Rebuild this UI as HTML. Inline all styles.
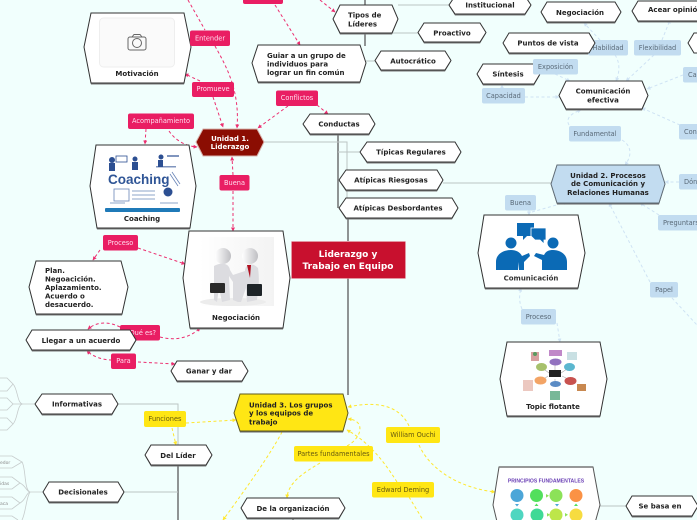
<!DOCTYPE html>
<html><head><meta charset="utf-8"><style>
html,body{margin:0;padding:0;background:#f1fffd;overflow:hidden}
svg{display:block;filter:blur(0.3px)}
text{font-family:"DejaVu Sans","Liberation Sans",sans-serif}
.b{font-weight:bold;font-size:7px;fill:#222;text-anchor:middle}
.l{font-weight:bold;font-size:7px;fill:#222}
.pk text,.yl text,.bl text{font-size:6.6px;text-anchor:middle}
.pk text{fill:#fde}.yl text{fill:#665a10}.bl text{fill:#5a6a78}
.pk rect{fill:#e91e63}.yl rect{fill:#ffe614}.bl rect{fill:#c2dcf0}
.n polygon{fill:#fff;stroke:#333;stroke-width:1}
.gl{fill:none;stroke:#bcc4c4;stroke-width:1}
.fn{fill:none;stroke:#c6cccc;stroke-width:0.8}
.tr{fill:none;stroke:#8f9494;stroke-width:2}
.pd{fill:none;stroke:#ec2f70;stroke-width:1;stroke-dasharray:3 2.5;marker-end:url(#ap)}
.yd{fill:none;stroke:#ffe72e;stroke-width:1;stroke-dasharray:3 2.5;marker-end:url(#ay)}
.bd{fill:none;stroke:#cfe3f4;stroke-width:1;stroke-dasharray:3 2.5;marker-end:url(#ab)}
.nm{marker-end:none}
.tiny{font-size:4.500px;fill:#888}
</style></head><body>
<svg width="697" height="520" viewBox="0 0 697 520" xmlns="http://www.w3.org/2000/svg">
<defs>
<marker id="ap" markerUnits="userSpaceOnUse" markerWidth="4" markerHeight="4" refX="3.500" refY="2" orient="auto"><path d="M0 0L4 2L0 4Z" fill="#ec2f70"/></marker>
<marker id="ay" markerUnits="userSpaceOnUse" markerWidth="4" markerHeight="4" refX="3.500" refY="2" orient="auto"><path d="M0 0L4 2L0 4Z" fill="#ffe72e"/></marker>
<marker id="ab" markerUnits="userSpaceOnUse" markerWidth="4" markerHeight="4" refX="3.500" refY="2" orient="auto"><path d="M0 0L4 2L0 4Z" fill="#cfe3f4"/></marker>
<linearGradient id="fig" x1="0" x2="1"><stop offset="0" stop-color="#fff"/><stop offset="1" stop-color="#bfbfc3"/></linearGradient>
<linearGradient id="bgn" x1="0" x2="1"><stop offset="0" stop-color="#fff"/><stop offset="1" stop-color="#f3f3f3"/></linearGradient>
<clipPath id="cq"><rect x="120" y="328" width="20" height="24"/></clipPath>
<clipPath id="cp"><rect x="585" y="32" width="12" height="23"/></clipPath>
</defs>
<rect width="697" height="520" fill="#f1fffd"/>

<!-- gray structure -->
<path class="tr" d="M365 0V46"/>
<path class="tr" d="M338 134V208"/>
<path class="tr" d="M348 208V241"/>
<path class="tr" d="M348 278V395"/>
<path class="tr" d="M178 465V520"/>
<path class="tr" d="M293 518V520"/>
<path class="gl" d="M398 5H449M388 33H418M366 61H375M264 142H347V210M338 152H360M443 183H551M118 404H178V445M124 492H178M600 506H626"/>

<!-- left fans -->
<path class="fn" d="M35 404H23M23 404C17 404 18 389 13 384M23 404H13M23 404C17 404 18 419 13 424"/>
<path class="fn" d="M0 378H7L13 384L7 391H0M0 398H7L13 404L7 410H0M0 418H7L13 424L7 430H0"/>
<path class="fn" d="M43 492H30M30 492C24 490 26 468 22 462M30 492C26 491 26 486 20 483M30 492C26 493 26 500 20 503M30 492C26 498 26 512 22 520"/>
<path class="fn" d="M0 456H12L22 462L12 468H0M0 477H12L20 483L12 489H0M0 497H12L20 503L12 509H0M0 516H12L18 520"/>
<text class="tiny" x="0" y="464">edor</text><text class="tiny" x="0" y="485">idas</text><text class="tiny" x="0" y="505">aca</text>

<!-- pink connectors -->
<path class="pd nm" d="M188 0L205 30"/>
<path class="pd" d="M215 46C226 66 240 90 237 128"/>
<path class="pd" d="M275 5L300 45"/>
<path class="pd" d="M320 0L335 12"/>
<path class="pd" d="M200 81L185 74"/>
<path class="pd" d="M213 97L223 127"/>
<path class="pd" d="M288 106L258 128"/>
<path class="pd" d="M317 105L328 114"/>
<path class="pd" d="M146 129L145 144"/>
<path class="pd" d="M169 131C175 140 185 146 197 147"/>
<path class="pd" d="M233 175L232 157"/>
<path class="pd" d="M233 191V231"/>
<path class="pd" d="M100 250L93 260"/>
<path class="pd" d="M138 248L185 264"/>
<path class="pd" d="M120 327C108 321 96 322 88 329"/>
<path class="pd" d="M160 337C175 341 190 338 200 328"/>
<path class="pd" d="M112 360C102 360 92 356 87 351"/>
<path class="pd" d="M138 362L175 364"/>
<!-- yellow connectors -->
<path class="yd" d="M186 423L236 420"/>
<path class="yd" d="M172 428L176 445"/>
<path class="yd" d="M320 463C305 472 288 482 287 498"/>
<path class="yd" d="M282 432C270 455 245 490 223 520"/>
<path class="yd" d="M409 426C398 402 370 402 348 407"/>
<path class="yd" d="M419 445C430 470 460 488 495 492"/>
<path class="yd" d="M347 446C362 438 366 420 348 419"/>
<path class="yd" d="M397 482C380 455 365 440 347 430"/>
<path class="yd nm" d="M409 497L423 520"/>
<!-- blue connectors -->
<path class="bd" d="M555 74L570 81"/>
<path class="bd" d="M525 97H559"/>
<path class="bd" d="M502 88L502 85"/>
<path class="bd" d="M600 40L584 23"/>
<path class="bd" d="M615 55C620 62 620 72 616 81"/>
<path class="bd" d="M654 55L626 81"/>
<path class="bd" d="M662 40L670 20"/>
<path class="bd" d="M683 75L647 89"/>
<path class="bd" d="M680 125L642 108"/>
<path class="bd" d="M569 125C565 118 572 113 581 110"/>
<path class="bd" d="M622 140C632 146 632 156 625 165"/>
<path class="bd" d="M529 210V215"/>
<path class="bd" d="M532 212L567 202"/>
<path class="bd" d="M679 182H665"/>
<path class="bd" d="M659 215L640 203"/>
<path class="bd" d="M650 282L609 203"/>
<path class="bd nm" d="M672 298L697 325"/>
<path class="bd" d="M522 309C519 302 519 296 521 288"/>
<path class="bd" d="M557 323L560 342"/>

<!-- Motivación -->
<g class="n"><polygon points="91,14.500 184,14.500 191,48 184,84.500 91,84.500 84,48" style="fill:#777;stroke:none"/><polygon points="91,13 184,13 191,47 184,83 91,83 84,47"/></g>
<rect x="99.500" y="18" width="75" height="49" rx="4" fill="#fafafa" stroke="#eee"/>
<g fill="none" stroke="#666" stroke-width="1"><rect x="128" y="37" width="18" height="13" rx="2"/><path d="M132 37L134 34.500H140L142 37"/><circle cx="137" cy="43" r="4.500"/></g>
<text class="b" x="137" y="76">Motivación</text>

<!-- Coaching -->
<g class="n"><polygon points="96,146 189,146 196,187 190,229.500 97,229.500 90,187" style="fill:#777;stroke:none"/><polygon points="96,145 189,145 196,186 190,228 97,228 90,186"/></g>
<g fill="#2c4f92"><circle cx="112" cy="160" r="3"/><rect x="109" y="163" width="6" height="8"/><circle cx="135" cy="159" r="2.500"/><rect x="132" y="162" width="6" height="8"/><circle cx="161" cy="157" r="2.500"/><rect x="158" y="160" width="5" height="7"/><rect x="116" y="156" width="11" height="6" fill="none" stroke="#2c4f92" stroke-width="0.800"/><rect x="167" y="155" width="12" height="2" opacity="0.600"/><rect x="156" y="166" width="20" height="1.500" opacity="0.600"/><circle cx="168" cy="192" r="4.500"/></g>
<text x="108" y="184" style="font-family:'Liberation Sans',sans-serif;font-weight:bold;font-size:13.500px;fill:#2f5596">Coaching</text>
<g fill="none" stroke="#6a86b8" stroke-width="0.800"><rect x="114" y="189" width="15" height="12"/><path d="M132 191H155M132 195H155M132 199H155M172 172L180 184M170 174L178 186M110 203H125M160 203H178"/></g>
<rect x="105" y="208" width="75" height="4" rx="1" fill="#1f7ab8"/>
<text class="b" x="142" y="221">Coaching</text>

<!-- Unidad 1 -->
<polygon points="203,129 257,129 264,142 257,156 203,156 196,142" fill="#8b0d02" stroke="#d8b4ae" stroke-width="1"/>
<text class="b" x="230" y="141" style="fill:#fff">Unidad 1.</text>
<text class="b" x="230" y="149" style="fill:#fff">Liderazgo</text>

<!-- Guiar -->
<g class="n"><polygon points="258,46.500 360,46.500 366,64 360,83.500 258,83.500 252,64" style="fill:#777;stroke:none"/><polygon points="258,45 360,45 366,63 360,82 258,82 252,63"/></g>
<text class="l" x="267" y="58">Guiar a un grupo de</text><text class="l" x="267" y="66.500">individuos para</text><text class="l" x="267" y="75">lograr un fin común</text>

<!-- Tipos -->
<g class="n"><polygon points="340,6.500 392,6.500 398,20 392,34.500 340,34.500 333,20" style="fill:#777;stroke:none"/><polygon points="340,5 392,5 398,19 392,33 340,33 333,19"/></g>
<text class="l" x="348" y="17.500">Tipos de</text><text class="l" x="348" y="26.500">Líderes</text>
<!-- small nodes -->
<g class="n">
<polygon points="455,-2.500 525,-2.500 531,6 525,15.500 455,15.500 449,6" style="fill:#777;stroke:none"/><polygon points="455,-4 525,-4 531,5 525,14 455,14 449,5"/>
<polygon points="424,24.500 480,24.500 486,33.500 480,43.500 424,43.500 418,33.500" style="fill:#777;stroke:none"/><polygon points="424,23 480,23 486,32.500 480,42 424,42 418,32.500"/>
<polygon points="381,52.500 445,52.500 451,61.500 445,71.500 381,71.500 375,61.500" style="fill:#777;stroke:none"/><polygon points="381,51 445,51 451,60.500 445,70 381,70 375,60.500"/>
<polygon points="310,115.500 369,115.500 375,125 369,135.500 310,135.500 303,125" style="fill:#777;stroke:none"/><polygon points="310,114 369,114 375,124 369,134 310,134 303,124"/>
<polygon points="367,143.500 455,143.500 461,153 455,163.500 367,163.500 360,153" style="fill:#777;stroke:none"/><polygon points="367,142 455,142 461,152 455,162 367,162 360,152"/>
<polygon points="346,171.500 437,171.500 443,181 437,191.500 346,191.500 339,181" style="fill:#777;stroke:none"/><polygon points="346,170 437,170 443,180 437,190 346,190 339,180"/>
<polygon points="346,199.500 452,199.500 458,209 452,219.500 346,219.500 339,209" style="fill:#777;stroke:none"/><polygon points="346,198 452,198 458,208 452,218 346,218 339,208"/>
<polygon points="547,3.500 615,3.500 621,13 615,23.500 547,23.500 541,13" style="fill:#777;stroke:none"/><polygon points="547,2 615,2 621,12 615,22 547,22 541,12"/>
<polygon points="638,2.500 700,2.500 706,12 700,22.500 638,22.500 632,12" style="fill:#777;stroke:none"/><polygon points="638,1 700,1 706,11 700,21 638,21 632,11"/>
<polygon points="509,34.500 589,34.500 595,44 589,54.500 509,54.500 503,44" style="fill:#777;stroke:none"/><polygon points="509,33 589,33 595,43 589,53 509,53 503,43"/>
<polygon points="483,65.500 534,65.500 540,75 534,85.500 483,85.500 477,75" style="fill:#777;stroke:none"/><polygon points="483,64 534,64 540,74 534,84 483,84 477,74"/>
<polygon points="694,33 710,33 710,53 694,53 688,43"/>
<polygon points="566,82.500 642,82.500 648,96.500 642,110.500 566,110.500 559,96.500" style="fill:#777;stroke:none"/><polygon points="566,81 642,81 648,95.500 642,109 566,109 559,95.500"/>
<polygon points="32,331.500 130,331.500 136,341 130,351.500 32,351.500 26,341" style="fill:#777;stroke:none"/><polygon points="32,330 130,330 136,340 130,350 32,350 26,340"/>
<polygon points="177,362.500 242,362.500 248,372 242,382.500 177,382.500 171,372" style="fill:#777;stroke:none"/><polygon points="177,361 242,361 248,371 242,381 177,381 171,371"/>
<polygon points="42,395.500 112,395.500 118,405 112,415.500 42,415.500 35,405" style="fill:#777;stroke:none"/><polygon points="42,394 112,394 118,404 112,414 42,414 35,404"/>
<polygon points="151,446.500 206,446.500 212,456 206,466.500 151,466.500 145,456" style="fill:#777;stroke:none"/><polygon points="151,445 206,445 212,455 206,465 151,465 145,455"/>
<polygon points="49,483.500 118,483.500 124,493 118,503.500 49,503.500 43,493" style="fill:#777;stroke:none"/><polygon points="49,482 118,482 124,492 118,502 49,502 43,492"/>
<polygon points="247,499.500 339,499.500 345,509 339,519.500 247,519.500 241,509" style="fill:#777;stroke:none"/><polygon points="247,498 339,498 345,508 339,518 247,518 241,508"/>
<polygon points="632,497.500 692,497.500 698,507 692,517.500 632,517.500 626,507" style="fill:#777;stroke:none"/><polygon points="632,496 692,496 698,506 692,516 632,516 626,506"/>
<polygon points="36,262.500 121,262.500 128,288 122,315.500 36,315.500 29,288" style="fill:#777;stroke:none"/><polygon points="36,261 121,261 128,287 122,314 36,314 29,287"/>
</g>
<text class="b" x="490" y="7.500">Institucional</text>
<text class="b" x="452" y="35.500">Proactivo</text>
<text class="b" x="413" y="63.500">Autocrático</text>
<text class="b" x="339" y="126.500">Conductas</text>
<text class="b" x="411" y="154.500">Típicas Regulares</text>
<text class="b" x="391" y="182.500">Atípicas Riesgosas</text>
<text class="b" x="398" y="210.500">Atípicas Desbordantes</text>
<text class="b" x="580" y="15">Negociación</text>
<text class="l" x="648" y="12">Acear opinión</text>
<text class="b" x="548" y="45.500">Puntos de vista</text>
<text class="b" x="508" y="76.500">Síntesis</text>
<text class="b" x="603" y="93.500">Comunicación</text><text class="b" x="603" y="102.500">efectiva</text>
<text class="b" x="81" y="343">Llegar a un acuerdo</text>
<text class="b" x="209" y="373.500">Ganar y dar</text>
<text class="b" x="77" y="406.500">Informativas</text>
<text class="b" x="178" y="458">Del Líder</text>
<text class="b" x="83" y="494.500">Decisionales</text>
<text class="b" x="293" y="511">De la organización</text>
<text class="b" x="660" y="508.500">Se basa en</text>
<text class="l" x="45" y="273">Plan.</text><text class="l" x="45" y="281.500">Negoacición.</text><text class="l" x="45" y="290">Aplazamiento.</text><text class="l" x="45" y="298.500">Acuerdo o</text><text class="l" x="45" y="307">desacuerdo.</text>

<!-- Negociación -->
<g class="n"><polygon points="189,232.500 283,232.500 290,279 283,329.500 190,329.500 183,279" style="fill:#777;stroke:none"/><polygon points="189,231 283,231 290,278 283,328 190,328 183,278"/></g>
<rect x="199" y="237" width="75" height="69" fill="url(#bgn)"/>
<ellipse cx="233" cy="302" rx="33" ry="4" fill="#ececec"/>
<circle cx="223" cy="256" r="8" fill="url(#fig)"/><circle cx="250" cy="256" r="8" fill="url(#fig)"/>
<path d="M214 266C221 262 229 263 230 270L233 275 245 271C245 263 254 263 258 268 260 282 258 290 257 300L247 302 246 288 241 302 238 302 233 300 233 282 229 276 230 300 222 302 219 288 217 302 214 300Z" fill="#dcdce0"/>
<path d="M247 265L250 278 251 265Z" fill="#b01020"/>
<rect x="210" y="283" width="15" height="10" rx="1" fill="#2a2a2a"/><rect x="247" y="284" width="15" height="12" rx="1" fill="#1e2428"/>
<text class="b" x="236" y="320">Negociación</text>

<!-- Central -->
<rect x="291.500" y="241.500" width="114" height="37" fill="#c8102e" stroke="#e8a4b0" stroke-width="0.500"/>
<text x="348" y="257" text-anchor="middle" style="font-weight:bold;font-size:9px;fill:#fff">Liderazgo y</text>
<text x="348" y="269" text-anchor="middle" style="font-weight:bold;font-size:9px;fill:#fff">Trabajo en Equipo</text>

<!-- Unidad 2 -->
<polygon points="557,166.500 659,166.500 665,185 659,204.500 557,204.500 551,185" fill="#666"/>
<polygon points="557,165 659,165 665,184 659,203 557,203 551,184" fill="#c2dcf0" stroke="#5f6b75" stroke-width="1"/>
<text class="b" x="608" y="178">Unidad 2. Procesos</text><text class="b" x="608" y="186">de Comunicación y</text><text class="b" x="608" y="195">Relaciones Humanas</text>

<!-- Unidad 3 -->
<polygon points="240,395.500 343,395.500 348,414 343,432.500 240,432.500 234,414" fill="#666"/>
<polygon points="240,394 343,394 348,413 343,431 240,431 234,413" fill="#ffe614" stroke="#5f5a20" stroke-width="1"/>
<text class="l" x="249" y="407.500">Unidad 3. Los grupos</text><text class="l" x="249" y="415.500">y los equipos de</text><text class="l" x="249" y="424.500">trabajo</text>

<!-- Comunicación -->
<g class="n"><polygon points="484,216.500 578,216.500 585,254 578,289.500 485,289.500 478,254" style="fill:#777;stroke:none"/><polygon points="484,215 578,215 585,253 578,288 485,288 478,253"/></g>
<g fill="#0b6ab5"><circle cx="511" cy="243" r="5.500"/><circle cx="553" cy="243" r="5.500"/>
<path d="M496 270V262C496 253 505 250 511 250 516 250 520 252 522 256L529 253 530 256 524 262V270H519V262L518 270ZM542 270V260L534 256 536 253 544 255C546 251 549 250 553 250 560 250 567 254 567 262V270Z"/>
<path d="M517 223H534V236H527L523 240V236H517Z"/><path d="M531 228H546V240H544V244L540 240H535L531 236Z" stroke="#fff" stroke-width="0.800"/></g>
<text class="b" x="531" y="280.500" style="fill:#333">Comunicación</text>

<!-- Topic flotante -->
<g class="n"><polygon points="507,343.500 600,343.500 607,380 600,417.500 507,417.500 500,380" style="fill:#777;stroke:none"/><polygon points="507,342 600,342 607,379 600,416 507,416 500,379"/></g>
<path d="M555 373L555 364M549 373L541 367M561 373L570 367M548 376L541 381M562 376L570 380M555 379V382" stroke="#aaa" stroke-width="0.600"/>
<rect x="549" y="370" width="12" height="7" fill="#222"/>
<ellipse cx="555.500" cy="362" rx="6" ry="3.500" fill="#9272bf"/>
<ellipse cx="541.500" cy="367" rx="5.500" ry="4" fill="#a7c16c"/>
<ellipse cx="569.500" cy="367" rx="5.500" ry="4" fill="#5bb7cf"/>
<ellipse cx="540.500" cy="380.500" rx="6" ry="4" fill="#f3a465"/>
<ellipse cx="570.500" cy="381" rx="6" ry="4" fill="#c8524f"/>
<ellipse cx="555.500" cy="384" rx="5.500" ry="3" fill="#5b8bc4"/>
<rect x="531" y="352" width="8" height="9" fill="#d8a0a0"/><circle cx="535" cy="354" r="2" fill="#5a9a60"/>
<rect x="549" y="350" width="13" height="6" fill="#c088c8"/>
<rect x="567" y="352" width="10" height="8" fill="#bcd8dc" opacity="0.800"/>
<rect x="523" y="380" width="10" height="11" fill="#ecc8c0"/>
<rect x="577" y="384" width="9" height="7" fill="#c88850"/>
<rect x="550" y="391" width="10" height="9" fill="#78b898"/>
<text class="b" x="553" y="409">Topic flotante</text>

<!-- Principios -->
<polygon points="499,467 593,467 600,505 593,530 499,530 493,505" fill="#fff" stroke="#555"/>
<path d="M499 467H593" stroke="#777" stroke-width="1.500"/>
<text x="546" y="482.500" text-anchor="middle" style="font-family:'Liberation Sans',sans-serif;font-size:5.100px;font-weight:bold;fill:#6a3fb5">PRINCIPIOS FUNDAMENTALES</text>
<circle cx="517" cy="495.500" r="6.500" fill="#4ca6d8"/><circle cx="536.500" cy="495.500" r="6.500" fill="#52df5c"/><circle cx="556" cy="495.500" r="6.500" fill="#8ce258"/><circle cx="576" cy="495.500" r="6.500" fill="#fb9245"/>
<circle cx="517" cy="515" r="6.500" fill="#4fd6c0"/><circle cx="537" cy="515" r="6.500" fill="#3fd996"/><circle cx="556" cy="515" r="6.500" fill="#bde64a"/><circle cx="576" cy="515" r="6.500" fill="#f7dc40"/>
<path d="M546 494l3 1.800-3 1.800zM547 513l3 1.800-3 1.800zM565 513l3 1.800-3 1.800z" fill="#8ce258"/>
<path d="M515 504h4l-2 2.500zM555 504h4l-2 2.500z" fill="#4ca6d8"/><path d="M534.500 506h4l-2-2.500zM574 506h4l-2-2.500z" fill="#52df5c"/>

<!-- pink labels -->
<g class="pk">
<rect x="243" y="-8" width="40" height="12" rx="2"/>
<rect x="190" y="30.500" width="40" height="15.500" rx="2"/><text x="210" y="40.500">Entender</text>
<rect x="192" y="82" width="42" height="15" rx="2"/><text x="213" y="91">Promueve</text>
<rect x="276" y="90.500" width="42" height="15.500" rx="2"/><text x="297" y="100">Conflictos</text>
<rect x="128" y="113.500" width="66" height="15.500" rx="2"/><text x="161" y="123">Acompañamiento</text>
<rect x="219.500" y="175" width="30" height="15.500" rx="2"/><text x="234.500" y="185">Buena</text>
<rect x="103" y="235" width="35" height="15.500" rx="2"/><text x="120.500" y="245">Proceso</text>
<rect x="120" y="325" width="40" height="15.500" rx="2"/><text x="141" y="335">¿Qué es?</text>
<rect x="111" y="353.500" width="25" height="15.500" rx="2"/><text x="123.500" y="363">Para</text>
</g>
<!-- node over Qué es -->
<polygon points="32,330 130,330 136,340 130,350 32,350 26,340" fill="#fff" stroke="#333" stroke-width="1" clip-path="url(#cq)"/>

<!-- yellow labels -->
<g class="yl">
<rect x="144" y="411" width="42" height="16" rx="2"/><text x="165" y="421">Funciones</text>
<rect x="386" y="427" width="54" height="16" rx="2"/><text x="413" y="437">William Ouchi</text>
<rect x="294" y="446" width="79" height="15.500" rx="2"/><text x="333.500" y="456">Partes fundamentales</text>
<rect x="372" y="482" width="62" height="15.500" rx="2"/><text x="403" y="492">Edward Deming</text>
</g>
<!-- blue labels -->
<g class="bl">
<rect x="521" y="309" width="35" height="15.500" rx="2"/><text x="538.500" y="319">Proceso</text>
<rect x="650" y="282" width="28" height="15.500" rx="2"/><text x="664" y="292">Papel</text>
<rect x="505" y="195" width="31" height="15.500" rx="2"/><text x="520.500" y="205">Buena</text>
<rect x="658" y="215" width="50" height="15.500" rx="2"/><text x="663" y="225" style="text-anchor:start">Preguntars</text>
<rect x="679" y="174" width="30" height="15.500" rx="2"/><text x="684" y="184" style="text-anchor:start">Dónde</text>
<rect x="569" y="126" width="52" height="15.500" rx="2"/><text x="595" y="136">Fundamental</text>
<rect x="679" y="124" width="30" height="15.500" rx="2"/><text x="684" y="134" style="text-anchor:start">Cond</text>
<rect x="482" y="88" width="43" height="15.500" rx="2"/><text x="503.500" y="98">Capacidad</text>
<rect x="683" y="67" width="30" height="15.500" rx="2"/><text x="688" y="77" style="text-anchor:start">Cap</text>
<rect x="533" y="59" width="45" height="15.500" rx="2"/><text x="555.500" y="69">Exposición</text>
<rect x="588" y="40" width="40" height="15.500" rx="2"/><text x="608" y="50">Habilidad</text>
<rect x="634" y="40" width="47" height="15.500" rx="2"/><text x="657.500" y="50">Flexibilidad</text>
</g>
<!-- Puntos de vista over Habilidad -->
<polygon points="509,33 589,33 595,43 589,53 509,53 503,43" fill="#fff" stroke="#333" clip-path="url(#cp)"/>
</svg>
</body></html>
